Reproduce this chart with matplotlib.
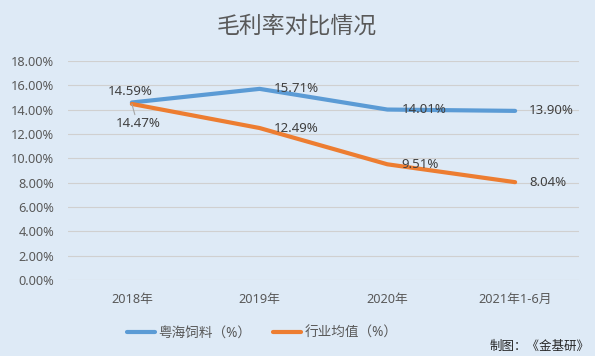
import matplotlib
matplotlib.use("Agg")
import matplotlib.pyplot as plt
from matplotlib.ticker import FuncFormatter

plt.rcParams['font.family'] = ['Noto Sans', 'Noto Sans CJK SC', 'DejaVu Sans']

categories = ["2018年", "2019年", "2020年", "2021年1-6月"]
yuehai = [14.59, 15.71, 14.01, 13.90]
industry = [14.47, 12.49, 9.51, 8.04]
series_names = ["粤海饲料（%）", "行业均值（%）"]
title = "毛利率对比情况"
credit = "制图：《金基研》"
yticks = [0, 2, 4, 6, 8, 10, 12, 14, 16, 18]

bg = "#DEEAF6"
blue = "#5B9BD5"
orange = "#ED7D31"
txt = "#595959"

W, H = 595, 356
fig = plt.figure(figsize=(W / 100, H / 100), dpi=100, facecolor=bg)
ax = fig.add_axes([68 / W, (H - 280) / H, (579 - 68) / W, (280 - 61) / H])
ax.set_facecolor(bg)

x = list(range(len(categories)))
ax.plot(x, [v / 100 for v in yuehai], color=blue, lw=3.0, solid_capstyle='round', zorder=3, label=series_names[0])
ax.plot(x, [v / 100 for v in industry], color=orange, lw=3.0, solid_capstyle='round', zorder=3, label=series_names[1])

ax.set_xlim(-0.5, len(categories) - 0.5)
ax.set_ylim(0, 0.18)
ax.set_yticks([t / 100 for t in yticks])
ax.yaxis.set_major_formatter(FuncFormatter(lambda v, p: f"{v * 100:.2f}%"))
ax.set_xticks(x)
ax.set_xticklabels(categories)
ax.grid(axis='y', color="#D0D0D0", lw=0.8)
ax.set_axisbelow(True)
for s in ax.spines.values():
    s.set_visible(False)
ax.tick_params(length=0, colors=txt, labelsize=9.2)
ax.tick_params(axis='y', pad=10)
ax.tick_params(axis='x', pad=9)

px = 0.72  # points per pixel
lab_kw = dict(textcoords='offset points', fontsize=9.5, color="#404040", va='center', zorder=4)

# first point labels
ax.annotate(f"{yuehai[0]:.2f}%", (0, yuehai[0] / 100), xytext=(-2 * px, 11 * px), ha='center', **lab_kw)
ax.annotate(f"{industry[0]:.2f}%", (0, industry[0] / 100), xytext=(6 * px, -20 * px), ha='center',
            arrowprops=dict(arrowstyle='-', color="#A6A6A6", lw=0.8, shrinkA=0, shrinkB=0,
                            relpos=(0.45, 1.0)), **lab_kw)
for i in range(1, len(categories)):
    ax.annotate(f"{yuehai[i]:.2f}%", (i, yuehai[i] / 100), xytext=(14 * px, 0), ha='left', **lab_kw)
    ax.annotate(f"{industry[i]:.2f}%", (i, industry[i] / 100), xytext=(14 * px, 0), ha='left', **lab_kw)

fig.text(297 / W, 1 - 27 / H, title, ha='center', va='center', fontsize=16.5, color=txt)

leg = fig.legend(loc='center', bbox_to_anchor=(262 / W, 1 - 333 / H), ncol=2, frameon=False,
                 fontsize=9.8, handlelength=2.1, columnspacing=1.6, handletextpad=0.2, labelcolor=txt)
for l in leg.get_lines():
    l.set_linewidth(3.0)

fig.text(590 / W, 1 - 346 / H, credit, ha='right', va='center', fontsize=9, color="#262626")

fig.savefig("out.png", dpi=100, facecolor=bg)
